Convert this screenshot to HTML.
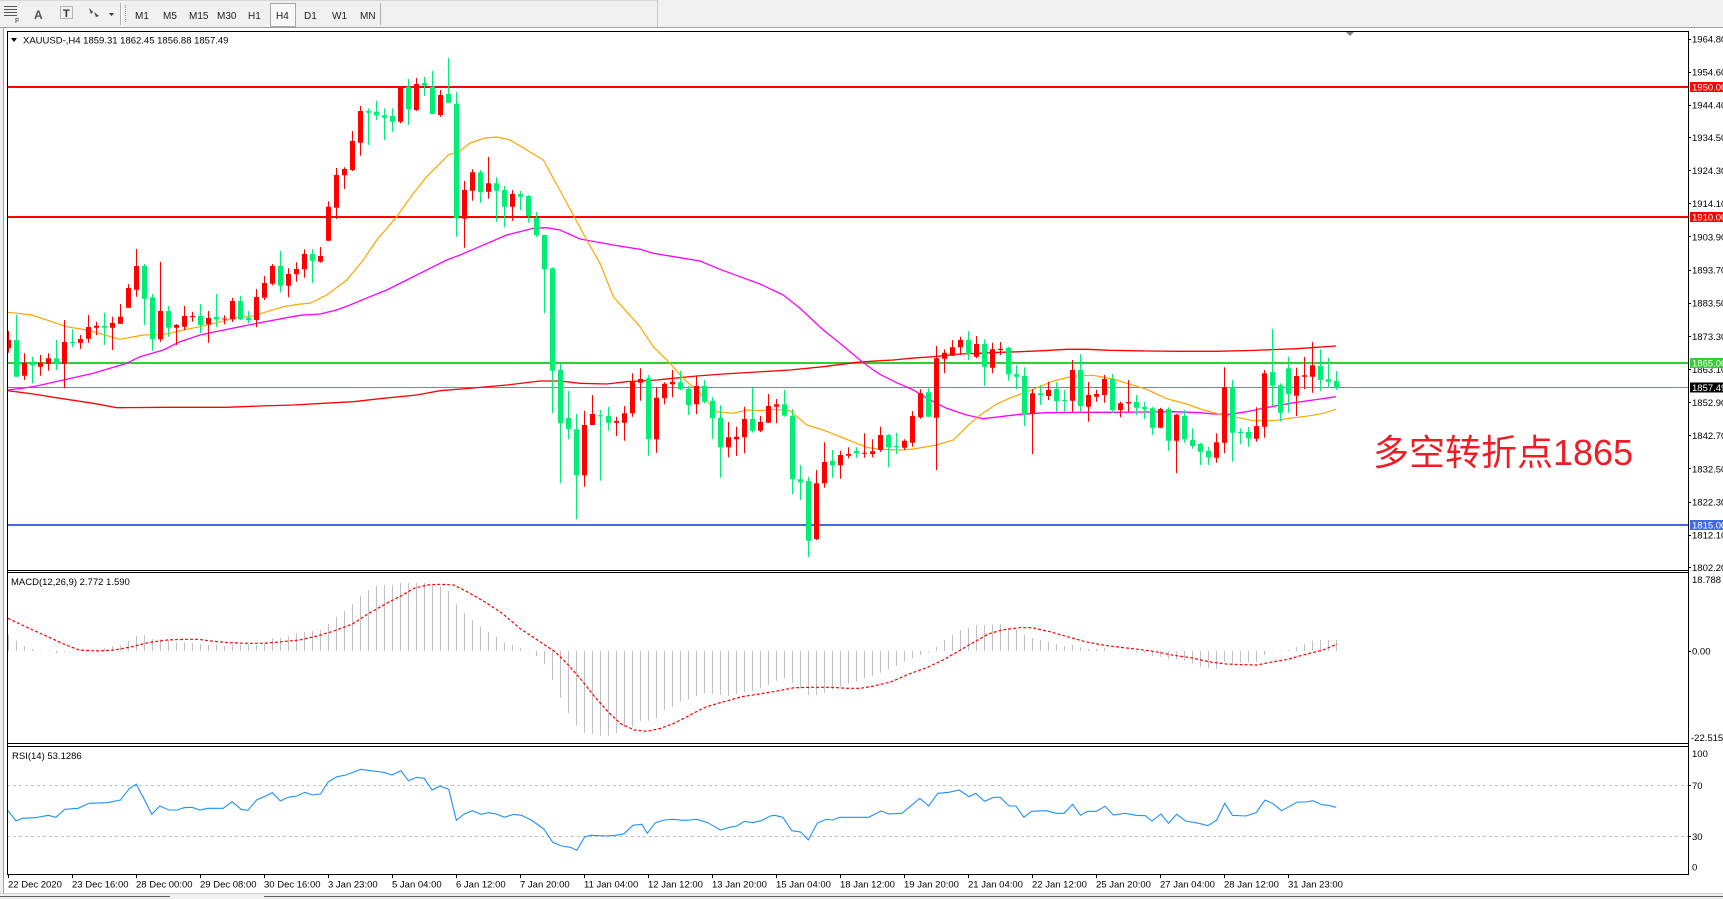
<!DOCTYPE html>
<html><head><meta charset="utf-8"><style>
html,body{margin:0;padding:0;background:#fff;overflow:hidden}
svg{display:block}
.t{font-family:"Liberation Sans",sans-serif;font-size:9.5px;fill:#000}
.tb{font-family:"Liberation Sans",sans-serif;font-size:10px;fill:#222}
</style></head><body>
<svg width="1723" height="899" viewBox="0 0 1723 899" xmlns="http://www.w3.org/2000/svg">
<defs>
<clipPath id="cm"><rect x="7.5" y="31.5" width="1680.5" height="539"/></clipPath>
<clipPath id="cd"><rect x="7.5" y="573" width="1680.5" height="170"/></clipPath>
<clipPath id="cr"><rect x="7.5" y="747" width="1680.5" height="127"/></clipPath>
</defs>
<rect width="1723" height="899" fill="#fff"/>
<!-- toolbar -->
<rect x="0" y="0" width="1723" height="27" fill="#F0F0F0"/>
<line x1="0" y1="27.5" x2="1723" y2="27.5" stroke="#A0A0A0"/>
<line x1="0" y1="0.5" x2="657" y2="0.5" stroke="#D8D8D8"/>
<g fill="#555">
<rect x="4" y="6" width="13" height="1"/><rect x="4" y="9" width="13" height="1"/><rect x="4" y="12" width="13" height="1"/><rect x="4" y="15" width="13" height="1"/>
</g>
<text x="15" y="23" style="font-family:'Liberation Sans',sans-serif;font-size:7px;fill:#333">F</text>
<text x="34" y="19" style="font-family:'Liberation Sans',sans-serif;font-size:12px;fill:#555;font-weight:bold">A</text>
<rect x="60.5" y="6.5" width="12" height="12" fill="none" stroke="#777" stroke-dasharray="1 1"/>
<text x="63" y="17" style="font-family:'Liberation Sans',sans-serif;font-size:11px;fill:#333;font-weight:bold">T</text>
<path d="M89 8l4 4l-2 2zM94 12l5 4l-3 1z" fill="#444"/>
<path d="M109 13h5l-2.5 3z" fill="#333"/>
<line x1="120.5" y1="3" x2="120.5" y2="25" stroke="#B0B0B0"/>
<line x1="121.5" y1="3" x2="121.5" y2="25" stroke="#fff"/>
<line x1="125.5" y1="5" x2="125.5" y2="23" stroke="#999" stroke-dasharray="1 1"/>
<rect x="270.5" y="3.5" width="25" height="23" fill="#F8F8F8" stroke="#A8A8A8"/>
<text class="tb" x="135" y="19">M1</text>
<text class="tb" x="163" y="19">M5</text>
<text class="tb" x="189" y="19">M15</text>
<text class="tb" x="217" y="19">M30</text>
<text class="tb" x="248" y="19">H1</text>
<text class="tb" x="276" y="19">H4</text>
<text class="tb" x="304" y="19">D1</text>
<text class="tb" x="332" y="19">W1</text>
<text class="tb" x="360" y="19">MN</text>
<line x1="380.5" y1="3" x2="380.5" y2="25" stroke="#B0B0B0"/>
<line x1="657.5" y1="0" x2="657.5" y2="27" stroke="#C8C8C8"/>
<!-- left frame -->
<rect x="0" y="28" width="3" height="871" fill="#F0F0F0"/>
<line x1="3.5" y1="28" x2="3.5" y2="893" stroke="#A0A0A0"/>

<!-- ===== MAIN PANEL ===== -->
<g clip-path="url(#cm)">
<rect x="7" y="86" width="1681" height="2" fill="#FF0000"/>
<rect x="7" y="216" width="1681" height="2" fill="#FF0000"/>
<rect x="7" y="362" width="1681" height="2" fill="#32CD32"/>
<rect x="7" y="524" width="1681" height="2" fill="#4169E1"/>
<line x1="7" y1="387.5" x2="1688" y2="387.5" stroke="#778899" stroke-width="1"/>
<polyline fill="none" stroke="#FF0000" stroke-width="1.3" points="8,390.7 33.3,394 60,398.3 93.3,403.3 116.7,407.7 166.7,407.3 226.7,407.3 260,406 293.3,405 323.3,403.3 353.3,401.7 383.3,398.3 416.7,395 440,390.7 473.3,388 506.7,385 540,381 560,381 580,383.3 606.7,384 626.7,381.7 656.7,380 673.3,378.3 696.7,376 723.3,374 756.7,372 790,370 823.3,366.7 856.7,362.3 880,360.7 893.3,360 910,358.3 933.3,356.7 960,354 980,353.3 1000,352.3 1020,351.7 1043.3,350.7 1066.7,349.3 1086.7,349.3 1110,350.3 1146.7,351 1180,351.3 1216.7,351.3 1250,350.5 1296.7,348.7 1316.7,347.3 1336,346"/>
<polyline fill="none" stroke="#FF00FF" stroke-width="1.3" points="8,390 33.3,386.7 63.3,380 93.3,373.3 126.7,363.3 140,356.7 163.3,350 180,341.7 200,335 220,330.7 240,326.7 260,322.7 283.3,318.3 300,315.3 320,314 336.7,310 350,305 370,296.7 386.7,290 406.7,280 430,268.3 446.7,260 460,255 473.3,249.3 506.7,235 533.3,228.3 546.7,227.7 560,230 580,239 613.3,245 640,249.3 653.3,253.3 680,257.7 700,261 720,269.3 740,276.7 760,284 783.3,295 800,308.3 823.3,330 840,343.3 860,360 873.3,370 880,374.3 896.7,382.7 913.3,390 930,400 946.7,408.3 966.7,415 983.3,418.7 1000,416.7 1020,414.3 1046.7,412.7 1080,412.3 1113.3,412.3 1146.7,412 1173.3,411.7 1200,412.7 1213.3,414 1230,414.3 1246.7,411.7 1263.3,408.3 1280,405 1296.7,402.3 1313.3,400 1336,396.7"/>
<polyline fill="none" stroke="#FFA500" stroke-width="1.2" points="8,312.3 32,315 66.7,326.7 86.7,330 120,339.3 143.3,335 160,334.7 170,333.3 183.3,330 200,326.7 216.7,322.7 233.3,318.3 253.3,316 266.7,311.7 283.3,306.7 300,304 310,303.3 326.7,295 346.7,280 363.3,260 376.7,240 396.7,216.7 413.3,193.3 426.7,176.7 440,163.3 448.3,155 460,151 470,143 485,138 497,137 510,140 522,147 535,155 543.3,160 573.3,215 586.7,240 600,263.3 613.3,296.7 626.7,311.7 640,326.7 653.3,346.7 670,363.3 683.3,378.3 700,393.3 716.7,411.7 733.3,413.3 746.7,410 760,410.7 773.3,409.3 790,410.7 806.7,425 823.3,430 840,436.7 856.7,443.3 866.7,447.3 880,449.3 900,450 913.3,449 936.7,445 953.3,440 966.7,426.7 980,415 996.7,404 1013.3,396.7 1033.3,389.3 1053.3,381 1073.3,376 1093.3,375.3 1113.3,379 1130,384.3 1146.7,389.3 1166.7,398.7 1186.7,404 1203.3,410 1220,414.3 1236.7,417.3 1253.3,420.7 1273.3,420.7 1290,418.3 1310,415.7 1323.3,413.3 1336,409.3"/>
<path fill="none" stroke="#FF0000" stroke-width="1" d="M8.5 331V352.7M24.5 353.3V380M40.5 355V375.7M48.5 353.3V370.7M64.5 320V388.3M80.5 335V349M88.5 315V342.7M96.5 321.7V335M112.5 316.7V350M120.5 304V323.7M128.5 284.3V307.7M136.5 249V296.7M160.5 261.7V341.7M176.5 324V345M184.5 306V330M192.5 311.7V321.7M208.5 311V342.7M224.5 315.3V324.3M232.5 297.7V322M256.5 289V327.3M264.5 276V300M272.5 264V285.3M288.5 268.3V297.3M296.5 262.3V281.7M304.5 249.3V277.7M320.5 247V262.7M328.5 201.3V240.7M336.5 168V219M344.5 167.3V189M352.5 131V171M360.5 106V155.7M400.5 86.7V123.3M416.5 78V111M440.5 90V116.7M464.5 181V247.7M472.5 169.3V200.7M488.5 157V198.7M512.5 190V220.7M584.5 410.7V486.7M592.5 395V425M616.5 416.7V436M624.5 406V440.7M632.5 373.3V416.7M640.5 368.3V400.7M656.5 387.3V452.7M664.5 382.3V404.3M672.5 370V397.3M696.5 376V414M728.5 422V457.3M736.5 426.7V456M744.5 406.7V453.3M760.5 416V432M768.5 394V422.7M776.5 399V423.3M816.5 470V540M824.5 442.3V487.7M840.5 450.7V478.7M848.5 447.3V458.3M864.5 433.3V457.7M872.5 439.3V457.3M880.5 426.7V452M904.5 439.3V450M912.5 411V446.7M920.5 389.3V418.7M936.5 346V470M944.5 349.3V373.3M952.5 340V356M960.5 336.7V355M976.5 336V358.3M992.5 342.7V373.3M1000.5 342V355M1032.5 389.3V454M1048.5 381.7V400M1072.5 360V411.7M1088.5 382V421.7M1096.5 390V401.7M1104.5 375V402.7M1120.5 401.7V417.3M1128.5 380V411.7M1160.5 407.7V428.3M1176.5 414V473.3M1216.5 433.3V462.7M1224.5 367.3V453.3M1256.5 407.3V441.7M1264.5 370V437.7M1296.5 367.7V416M1304.5 357V389.3M1312.5 342V392.7"/>
<path fill="none" stroke="#FF0000" stroke-width="5" d="M8.5 340V348.3M24.5 362.7V375.7M40.5 362.7V366.7M48.5 358.3V364M64.5 342V364M80.5 339V342.7M88.5 327V338.7M96.5 325.7V327.7M112.5 323V327.7M120.5 316.7V323.7M128.5 288V307.7M136.5 266V289.7M160.5 311V339.3M176.5 325V327.7M184.5 316V326.7M192.5 316V317M208.5 318V324.3M224.5 318.5V319.5M232.5 301V319.3M256.5 297V320M264.5 283V297.7M272.5 266V283.7M288.5 274V285.7M296.5 269V274.3M304.5 254V269.3M320.5 256V261.7M328.5 206.7V240.7M336.5 175V207.7M344.5 169V175.3M352.5 141V170M360.5 111V142.7M400.5 86.7V121.7M416.5 84V110M440.5 95V115M464.5 190V218.7M472.5 172.3V190.7M488.5 183.3V191.7M512.5 194V206.7M584.5 425V475.3M592.5 414V425M616.5 421V422.7M624.5 413.3V422.7M632.5 381.7V413.3M640.5 379V382.7M656.5 397.7V439.3M664.5 383.7V398.3M672.5 381.7V384.3M696.5 386V404.3M728.5 437.3V447.3M736.5 436.7V439.3M744.5 419V437.3M760.5 422V430.7M768.5 406V422.7M776.5 404.3V406.7M816.5 483.3V539M824.5 462V483.3M840.5 455V465.3M848.5 454V455.7M864.5 452.7V453.7M872.5 451.3V454M880.5 435V450M904.5 440.7V447.7M912.5 416V442.7M920.5 393.3V417.3M936.5 358.3V417.7M944.5 352.7V358.7M952.5 347.3V355.7M960.5 340V347.3M976.5 344V356.7M992.5 349.3V367.7M1000.5 348.7V350M1032.5 393.3V413.3M1048.5 390V396M1072.5 370V400.7M1088.5 395V406.7M1096.5 394V396.7M1104.5 379V395M1120.5 403.3V410M1128.5 402V403.3M1160.5 409V427.7M1176.5 414.7V440.7M1216.5 442.3V457.7M1224.5 387.3V442.7M1256.5 426V438.7M1264.5 373.3V426.7M1296.5 376V395.7M1304.5 375.3V376.7M1312.5 365.3V376.7"/>
<path fill="none" stroke="#00EE76" stroke-width="1" d="M16.5 315V376.7M32.5 356.7V383.3M56.5 340V370M72.5 329.3V347.3M104.5 312.7V345M144.5 264V325M152.5 294V350.7M168.5 306V336.7M200.5 304V333.3M216.5 294V326.7M240.5 295.7V320M248.5 311V323.3M280.5 250.7V292.3M312.5 249.3V282.7M368.5 108.3V145M376.5 100.7V120M384.5 108.3V140M392.5 108.3V131.7M408.5 79V125M424.5 76.7V96M432.5 70.7V114M448.5 57.7V102.7M456.5 91.7V236.7M480.5 170V202.7M496.5 177.3V221.7M504.5 186V227.3M520.5 191V210M528.5 195V222.7M536.5 211.7V236.7M544.5 235V313.3M552.5 267.3V413.3M560.5 363.3V483.3M568.5 391V439.3M576.5 414V519.3M600.5 410V480.7M608.5 406.7V430.7M648.5 375V455.7M680.5 370.7V390M688.5 385.7V415M704.5 380V403.3M712.5 397.3V439M720.5 405.3V477.7M752.5 387.3V432.7M784.5 390V416.7M792.5 409.3V494.3M800.5 465V500M808.5 476.7V557.3M832.5 450V477.7M856.5 447.3V457.7M888.5 434V467.3M896.5 432.7V454M928.5 388.3V416.7M968.5 331V360M984.5 339.3V385.7M1008.5 346.7V380.7M1016.5 365.3V389.3M1024.5 367.3V426M1040.5 385V405M1056.5 382.3V411.7M1064.5 390V411.7M1080.5 354V411.7M1112.5 374V412.7M1136.5 395V415M1144.5 401.7V419M1152.5 406.7V435M1168.5 407.3V450.7M1184.5 410V442.7M1192.5 428.3V448.7M1200.5 442.7V465M1208.5 446.7V465M1232.5 380V461.7M1240.5 428.3V444M1248.5 427V446.7M1272.5 329V406M1280.5 383.3V421.7M1288.5 356.7V412.7M1320.5 349.3V390.7M1328.5 357.7V387.3M1336.5 371V390"/>
<path fill="none" stroke="#00EE76" stroke-width="5" d="M16.5 340V376.7M32.5 362.7V365.3M56.5 358.3V364M72.5 342V343M104.5 325.7V327.7M144.5 266V298.7M152.5 297.3V339.3M168.5 311V327.7M200.5 316V325M216.5 317V319.3M240.5 301V319.3M248.5 317.7V320.3M280.5 266V285.7M312.5 254V260.7M368.5 111V112.7M376.5 111.7V115.3M384.5 115.3V117.7M392.5 116V121.7M408.5 86.7V109.3M424.5 83V85.7M432.5 86.7V114M448.5 94V102.7M456.5 104V218.3M480.5 172.3V192.3M496.5 183.3V190.7M504.5 190V206.7M520.5 194V196.7M528.5 196V216M536.5 217.7V235M544.5 235V269.3M552.5 268.3V370.7M560.5 370V423.3M568.5 418V429.3M576.5 429.3V475.3M600.5 415.3V416.3M608.5 416V422.7M648.5 378.3V439.3M680.5 382.3V389.3M688.5 389V405M704.5 386V401.7M712.5 400.7V418.3M720.5 417.7V447.3M752.5 419V430.7M784.5 404.3V415.7M792.5 415.7V479.3M800.5 479.3V482.3M808.5 481V540.7M832.5 461V465.3M856.5 451V453.3M888.5 435V447.3M896.5 446V447.3M928.5 392.3V416.7M968.5 340V354M984.5 344V366.7M1008.5 347.7V374.3M1016.5 374V376.7M1024.5 376V414.3M1040.5 393.3V395M1056.5 389V401M1064.5 400V401M1080.5 370V406M1112.5 379V410M1136.5 402V407.7M1144.5 407V409M1152.5 408.3V427.7M1168.5 409V440.7M1184.5 416V439.3M1192.5 440V446M1200.5 444V451.7M1208.5 451V457.3M1232.5 387.3V432.7M1240.5 432V433M1248.5 432V438.3M1272.5 372V385.7M1280.5 385.3V412.7M1288.5 368.3V394M1320.5 366V380M1328.5 379.3V381.7M1336.5 381V387.7"/>
</g>
<path d="M1346 32h8l-4 4z" fill="#808080"/>
<path d="M11 38h6l-3 4z" fill="#000"/>
<text class="t" x="23" y="43.5">XAUUSD-,H4  1859.31 1862.45 1856.88 1857.49</text>
<text x="1373" y="465" style="font-family:'Liberation Sans','Noto Sans CJK SC',sans-serif;font-size:36px;fill:#EE1C25">多空转折点1865</text>

<!-- ===== MACD PANEL ===== -->
<g clip-path="url(#cd)">
<path fill="none" stroke="#C0C0C0" stroke-width="1" d="M8.5 651V635M16.5 651V640.7M24.5 651V646M32.5 651V649M40.5 651V650.5M48.5 651V650.5M56.5 651V653.3M64.5 651V652.3M72.5 651V650.5M80.5 651V650M88.5 651V649.3M96.5 651V648.7M104.5 651V648M112.5 651V646M120.5 651V645.3M128.5 651V641M136.5 651V635.7M144.5 651V635.3M152.5 651V639M160.5 651V639.3M168.5 651V640M176.5 651V642.3M184.5 651V642.3M192.5 651V643.3M200.5 651V644M208.5 651V645M216.5 651V645M224.5 651V646M232.5 651V645M240.5 651V645M248.5 651V644.3M256.5 651V645M264.5 651V643.3M272.5 651V638.3M280.5 651V637.7M288.5 651V636M296.5 651V633.3M304.5 651V631.7M312.5 651V630.7M320.5 651V630M328.5 651V624M336.5 651V616.7M344.5 651V610.7M352.5 651V604M360.5 651V595.7M368.5 651V590M376.5 651V585.7M384.5 651V585M392.5 651V584.7M400.5 651V582.7M408.5 651V582.7M416.5 651V582.7M424.5 651V582.7M432.5 651V586M440.5 651V586.7M448.5 651V590.7M456.5 651V604.3M464.5 651V613.3M472.5 651V620M480.5 651V626.7M488.5 651V631.7M496.5 651V636.7M504.5 651V642.7M512.5 651V645M520.5 651V648.3M528.5 651V650.5M536.5 651V656M544.5 651V664.3M552.5 651V680M560.5 651V697.7M568.5 651V713.3M576.5 651V725.7M584.5 651V732.7M592.5 651V734M600.5 651V735.7M608.5 651V735.7M616.5 651V733.3M624.5 651V726.7M632.5 651V726.7M640.5 651V721M648.5 651V720.7M656.5 651V718.3M664.5 651V710M672.5 651V706.7M680.5 651V701.7M688.5 651V699.3M696.5 651V696M704.5 651V693.3M712.5 651V694M720.5 651V695M728.5 651V696M736.5 651V694M744.5 651V691.7M752.5 651V690.7M760.5 651V688.3M768.5 651V685M776.5 651V680.7M784.5 651V678.3M792.5 651V682.7M800.5 651V688.3M808.5 651V695M816.5 651V695M824.5 651V692.7M832.5 651V690M840.5 651V686.7M848.5 651V684M856.5 651V681.7M864.5 651V678.3M872.5 651V676M880.5 651V672.7M888.5 651V669.3M896.5 651V666M904.5 651V661.7M912.5 651V658.3M920.5 651V655M928.5 651V652.3M936.5 651V646.7M944.5 651V640M952.5 651V635M960.5 651V630M968.5 651V627.7M976.5 651V625M984.5 651V625M992.5 651V624.3M1000.5 651V624M1008.5 651V628.3M1016.5 651V629.3M1024.5 651V635M1032.5 651V638.3M1040.5 651V640M1048.5 651V641.7M1056.5 651V644M1064.5 651V646M1072.5 651V645M1080.5 651V647.7M1088.5 651V649M1096.5 651V648.7M1104.5 651V647.7M1112.5 651V650.5M1120.5 651V651.5M1128.5 651V650.5M1136.5 651V652.7M1144.5 651V653.3M1152.5 651V656M1160.5 651V656.7M1168.5 651V659.3M1176.5 651V659.3M1184.5 651V661M1192.5 651V663.3M1200.5 651V666.7M1208.5 651V668.3M1216.5 651V669M1224.5 651V661.7M1232.5 651V663.3M1240.5 651V662.7M1248.5 651V662.3M1256.5 651V661.7M1264.5 651V655M1272.5 651V651.5M1280.5 651V650.5M1288.5 651V650M1296.5 651V646.7M1304.5 651V644M1312.5 651V640.7M1320.5 651V640M1328.5 651V640M1336.5 651V640"/>
<polyline fill="none" stroke="#FF0000" stroke-width="1.2" stroke-dasharray="3 2" points="7.9,618.3 22,625 44,635 66,645 79.3,650 97,651 114.5,650 132.2,646.7 149.8,642.3 167.4,640 185,639.3 198.2,639.3 211.5,641 229,642.7 246.7,643.3 264.3,643.3 282,641.7 299.6,640 317.2,636 334.8,630.7 352.4,624 370,612.7 387.7,602.7 400.9,596 414.1,588.3 427.3,585 440.5,584.3 453.7,585 467,591.7 484.6,601.7 502.2,613.3 519.8,628.3 537.4,640 555,651.7 568.3,665 581.5,680 594.7,696.7 607.9,711.7 621.1,724 634.4,730 647.6,731.3 660.8,728.3 674,723.3 687.2,716.7 693.2,713.3 706.4,706.7 724,701.7 741.7,696.7 759.3,694 776.9,691 794.5,687.7 812.2,687.3 829.8,687.3 847.4,688.3 860.6,688.3 873.8,686 891.5,681.7 909.1,674 926.7,667.7 944.3,659.3 957.5,651.7 970.7,644 988.4,634 1001.6,630 1019.2,627.7 1032.4,627.7 1050,631.7 1067.6,636.7 1085.3,641.7 1102.9,645 1120.5,647.3 1138.2,649.3 1155.8,651.7 1173.4,655.3 1191,657.7 1208.6,661.7 1226.3,664 1243.9,664.7 1257.1,665 1270.3,662.3 1287.9,659.3 1305.5,654.3 1323.1,650 1337.3,644"/>
</g>
<text class="t" x="11" y="585">MACD(12,26,9) 2.772 1.590</text>

<!-- ===== RSI PANEL ===== -->
<g clip-path="url(#cr)">
<line x1="7" y1="785.5" x2="1688" y2="785.5" stroke="#C0C0C0" stroke-dasharray="3 3"/>
<line x1="7" y1="836.5" x2="1688" y2="836.5" stroke="#C0C0C0" stroke-dasharray="3 3"/>
<polyline fill="none" stroke="#1E90FF" stroke-width="1.1" points="8,810.7 16.1,821 22.3,818.3 35.7,817.7 48.2,815.3 55.8,817.3 64.7,809.3 78.1,808.3 89.3,803.3 107.1,802.7 120.5,800 129.5,788.3 136.2,784.3 142.9,796.7 151.8,814.3 159.8,806 168.8,810 177.7,810 183.9,807.7 192,807.3 200,810 207.6,808.3 223.2,808.3 232.1,801.7 241.1,809.3 247.8,810.3 256.7,800 265.6,796 272.3,792.7 280.4,801 288,797.3 296.9,796 304.9,792.3 312.5,795 320.5,794 328.1,782 337.1,776.7 346,775 360.7,769.3 370.5,770.7 383.9,772.3 392,775 400.9,770.7 408.5,780.7 416.5,777.3 424.1,778.3 432.1,790 439.7,786 448.7,789.3 456.3,820.3 464.3,814 472.3,810.7 481.3,814.3 488.8,812.7 496.4,814 504.5,817.3 513.4,814.3 521.4,815.3 531.3,820 543.8,829 552.7,842.3 561.6,846 570.5,847.3 576.8,850.3 584.8,836.7 591.5,835.3 607.1,836 616.1,835.3 624.1,833.7 633,825.3 642,824.3 647.3,833.3 655.4,822.7 664.3,820 673.2,819.3 683,820.3 690,820 696.7,819.3 707.9,822.7 720.4,830 729.3,827.3 736.9,826 744.5,821.3 752.5,822.7 761.4,820.7 770.4,816 774.8,815.3 782.9,817.3 791.8,830.7 800.7,832 808.3,840 817.2,823.3 826.2,819.3 832.9,820 839.6,817.3 868.6,817.3 881.1,811 888.7,814 902,813.3 919.9,798.3 928.8,806 937.8,793.3 948.9,792.3 959.2,790 969,796.7 975.7,793.3 984.6,801.3 993.6,797.3 1000.3,797.3 1009.2,806 1015.9,806 1023.9,817.3 1031.5,811.3 1047.1,810.7 1056.1,813.3 1064.1,813.3 1072.6,804.3 1080.6,815.3 1087.3,811.3 1096.3,811.3 1105.2,806.3 1113.2,815 1125.3,813.3 1136.4,815.3 1145.4,815.7 1152,821 1161,814 1168.6,823.3 1176.6,814.3 1185.5,821 1198.9,823.3 1207.9,825.7 1216.8,820 1224.8,803.3 1232.4,815.3 1245.8,816 1256.1,812.7 1265,800 1272.6,803.3 1281.5,810.7 1289.1,806.7 1297.1,802 1306.1,802 1312.8,800.7 1321.7,804.7 1328.4,805.3 1336,807.3"/>
</g>
<text class="t" x="12" y="759">RSI(14) 53.1286</text>

<!-- ===== FRAMES ===== -->
<g stroke="#000" stroke-width="1" fill="none">
<line x1="7" y1="31.5" x2="1689" y2="31.5"/>
<line x1="7.5" y1="31" x2="7.5" y2="875"/>
<line x1="1688.5" y1="31" x2="1688.5" y2="875"/>
<line x1="7" y1="570.5" x2="1689" y2="570.5"/>
<line x1="7" y1="572.5" x2="1689" y2="572.5"/>
<line x1="7" y1="743.5" x2="1689" y2="743.5"/>
<line x1="7" y1="746.5" x2="1689" y2="746.5"/>
<line x1="7" y1="874.5" x2="1689" y2="874.5"/>
</g>

<path stroke="#000" stroke-width="1" d="M1688 39.5h3M1688 72.5h3M1688 105.5h3M1688 137.5h3M1688 170.5h3M1688 203.5h3M1688 236.5h3M1688 270.5h3M1688 303.5h3M1688 336.5h3M1688 369.5h3M1688 402.5h3M1688 435.5h3M1688 468.5h3M1688 502.5h3M1688 535.5h3M1688 567.5h3M1688 651.5h3M1688 785.5h3M1688 836.5h3"/>
<text class="t" x="1692" y="42.5">1964.80</text>
<text class="t" x="1692" y="75.5">1954.60</text>
<text class="t" x="1692" y="108.7">1944.40</text>
<text class="t" x="1692" y="141">1934.50</text>
<text class="t" x="1692" y="174">1924.30</text>
<text class="t" x="1692" y="207.2">1914.10</text>
<text class="t" x="1692" y="240.3">1903.90</text>
<text class="t" x="1692" y="273.5">1893.70</text>
<text class="t" x="1692" y="306.6">1883.50</text>
<text class="t" x="1692" y="339.8">1873.30</text>
<text class="t" x="1692" y="373">1863.10</text>
<text class="t" x="1692" y="406">1852.90</text>
<text class="t" x="1692" y="439.2">1842.70</text>
<text class="t" x="1692" y="472.4">1832.50</text>
<text class="t" x="1692" y="505.5">1822.30</text>
<text class="t" x="1692" y="538.7">1812.10</text>
<text class="t" x="1692" y="570.9">1802.20</text>
<rect x="1690" y="82" width="33" height="10" fill="#FF0000"/>
<text class="t" x="1692" y="90.5" style="fill:#fff">1950.00</text>
<rect x="1690" y="212" width="33" height="10" fill="#FF0000"/>
<text class="t" x="1692" y="220.5" style="fill:#fff">1910.00</text>
<rect x="1690" y="358" width="33" height="10" fill="#32CD32"/>
<text class="t" x="1692" y="366.5" style="fill:#fff">1865.00</text>
<rect x="1690" y="382.5" width="33" height="10" fill="#000"/>
<text class="t" x="1692" y="391" style="fill:#fff">1857.49</text>
<rect x="1690" y="520" width="33" height="10" fill="#4169E1"/>
<text class="t" x="1692" y="528.5" style="fill:#fff">1815.00</text>
<text class="t" x="1692" y="583">18.788</text>
<text class="t" x="1692" y="654.5">0.00</text>
<text class="t" x="1691" y="741">-22.515</text>
<text class="t" x="1692" y="757">100</text>
<text class="t" x="1692" y="789">70</text>
<text class="t" x="1692" y="840">30</text>
<text class="t" x="1692" y="870.5">0</text>

<path stroke="#000" stroke-width="1" d="M8.5 875v3M72.5 875v3M136.5 875v3M200.5 875v3M264.5 875v3M328.5 875v3M392.5 875v3M456.5 875v3M520.5 875v3M584.5 875v3M648.5 875v3M712.5 875v3M776.5 875v3M840.5 875v3M904.5 875v3M968.5 875v3M1032.5 875v3M1096.5 875v3M1160.5 875v3M1224.5 875v3M1288.5 875v3"/>
<text class="t" x="8" y="887.5">22 Dec 2020</text>
<text class="t" x="72" y="887.5">23 Dec 16:00</text>
<text class="t" x="136" y="887.5">28 Dec 00:00</text>
<text class="t" x="200" y="887.5">29 Dec 08:00</text>
<text class="t" x="264" y="887.5">30 Dec 16:00</text>
<text class="t" x="328" y="887.5">3 Jan 23:00</text>
<text class="t" x="392" y="887.5">5 Jan 04:00</text>
<text class="t" x="456" y="887.5">6 Jan 12:00</text>
<text class="t" x="520" y="887.5">7 Jan 20:00</text>
<text class="t" x="584" y="887.5">11 Jan 04:00</text>
<text class="t" x="648" y="887.5">12 Jan 12:00</text>
<text class="t" x="712" y="887.5">13 Jan 20:00</text>
<text class="t" x="776" y="887.5">15 Jan 04:00</text>
<text class="t" x="840" y="887.5">18 Jan 12:00</text>
<text class="t" x="904" y="887.5">19 Jan 20:00</text>
<text class="t" x="968" y="887.5">21 Jan 04:00</text>
<text class="t" x="1032" y="887.5">22 Jan 12:00</text>
<text class="t" x="1096" y="887.5">25 Jan 20:00</text>
<text class="t" x="1160" y="887.5">27 Jan 04:00</text>
<text class="t" x="1224" y="887.5">28 Jan 12:00</text>
<text class="t" x="1288" y="887.5">31 Jan 23:00</text>
<rect x="0" y="893" width="1723" height="6" fill="#F0F0F0"/>
<line x1="0" y1="893.5" x2="1723" y2="893.5" stroke="#D0D0D0"/>
<line x1="0" y1="896.5" x2="170" y2="896.5" stroke="#606060"/>
<line x1="264" y1="896.5" x2="1723" y2="896.5" stroke="#606060"/>
</svg>
</body></html>
